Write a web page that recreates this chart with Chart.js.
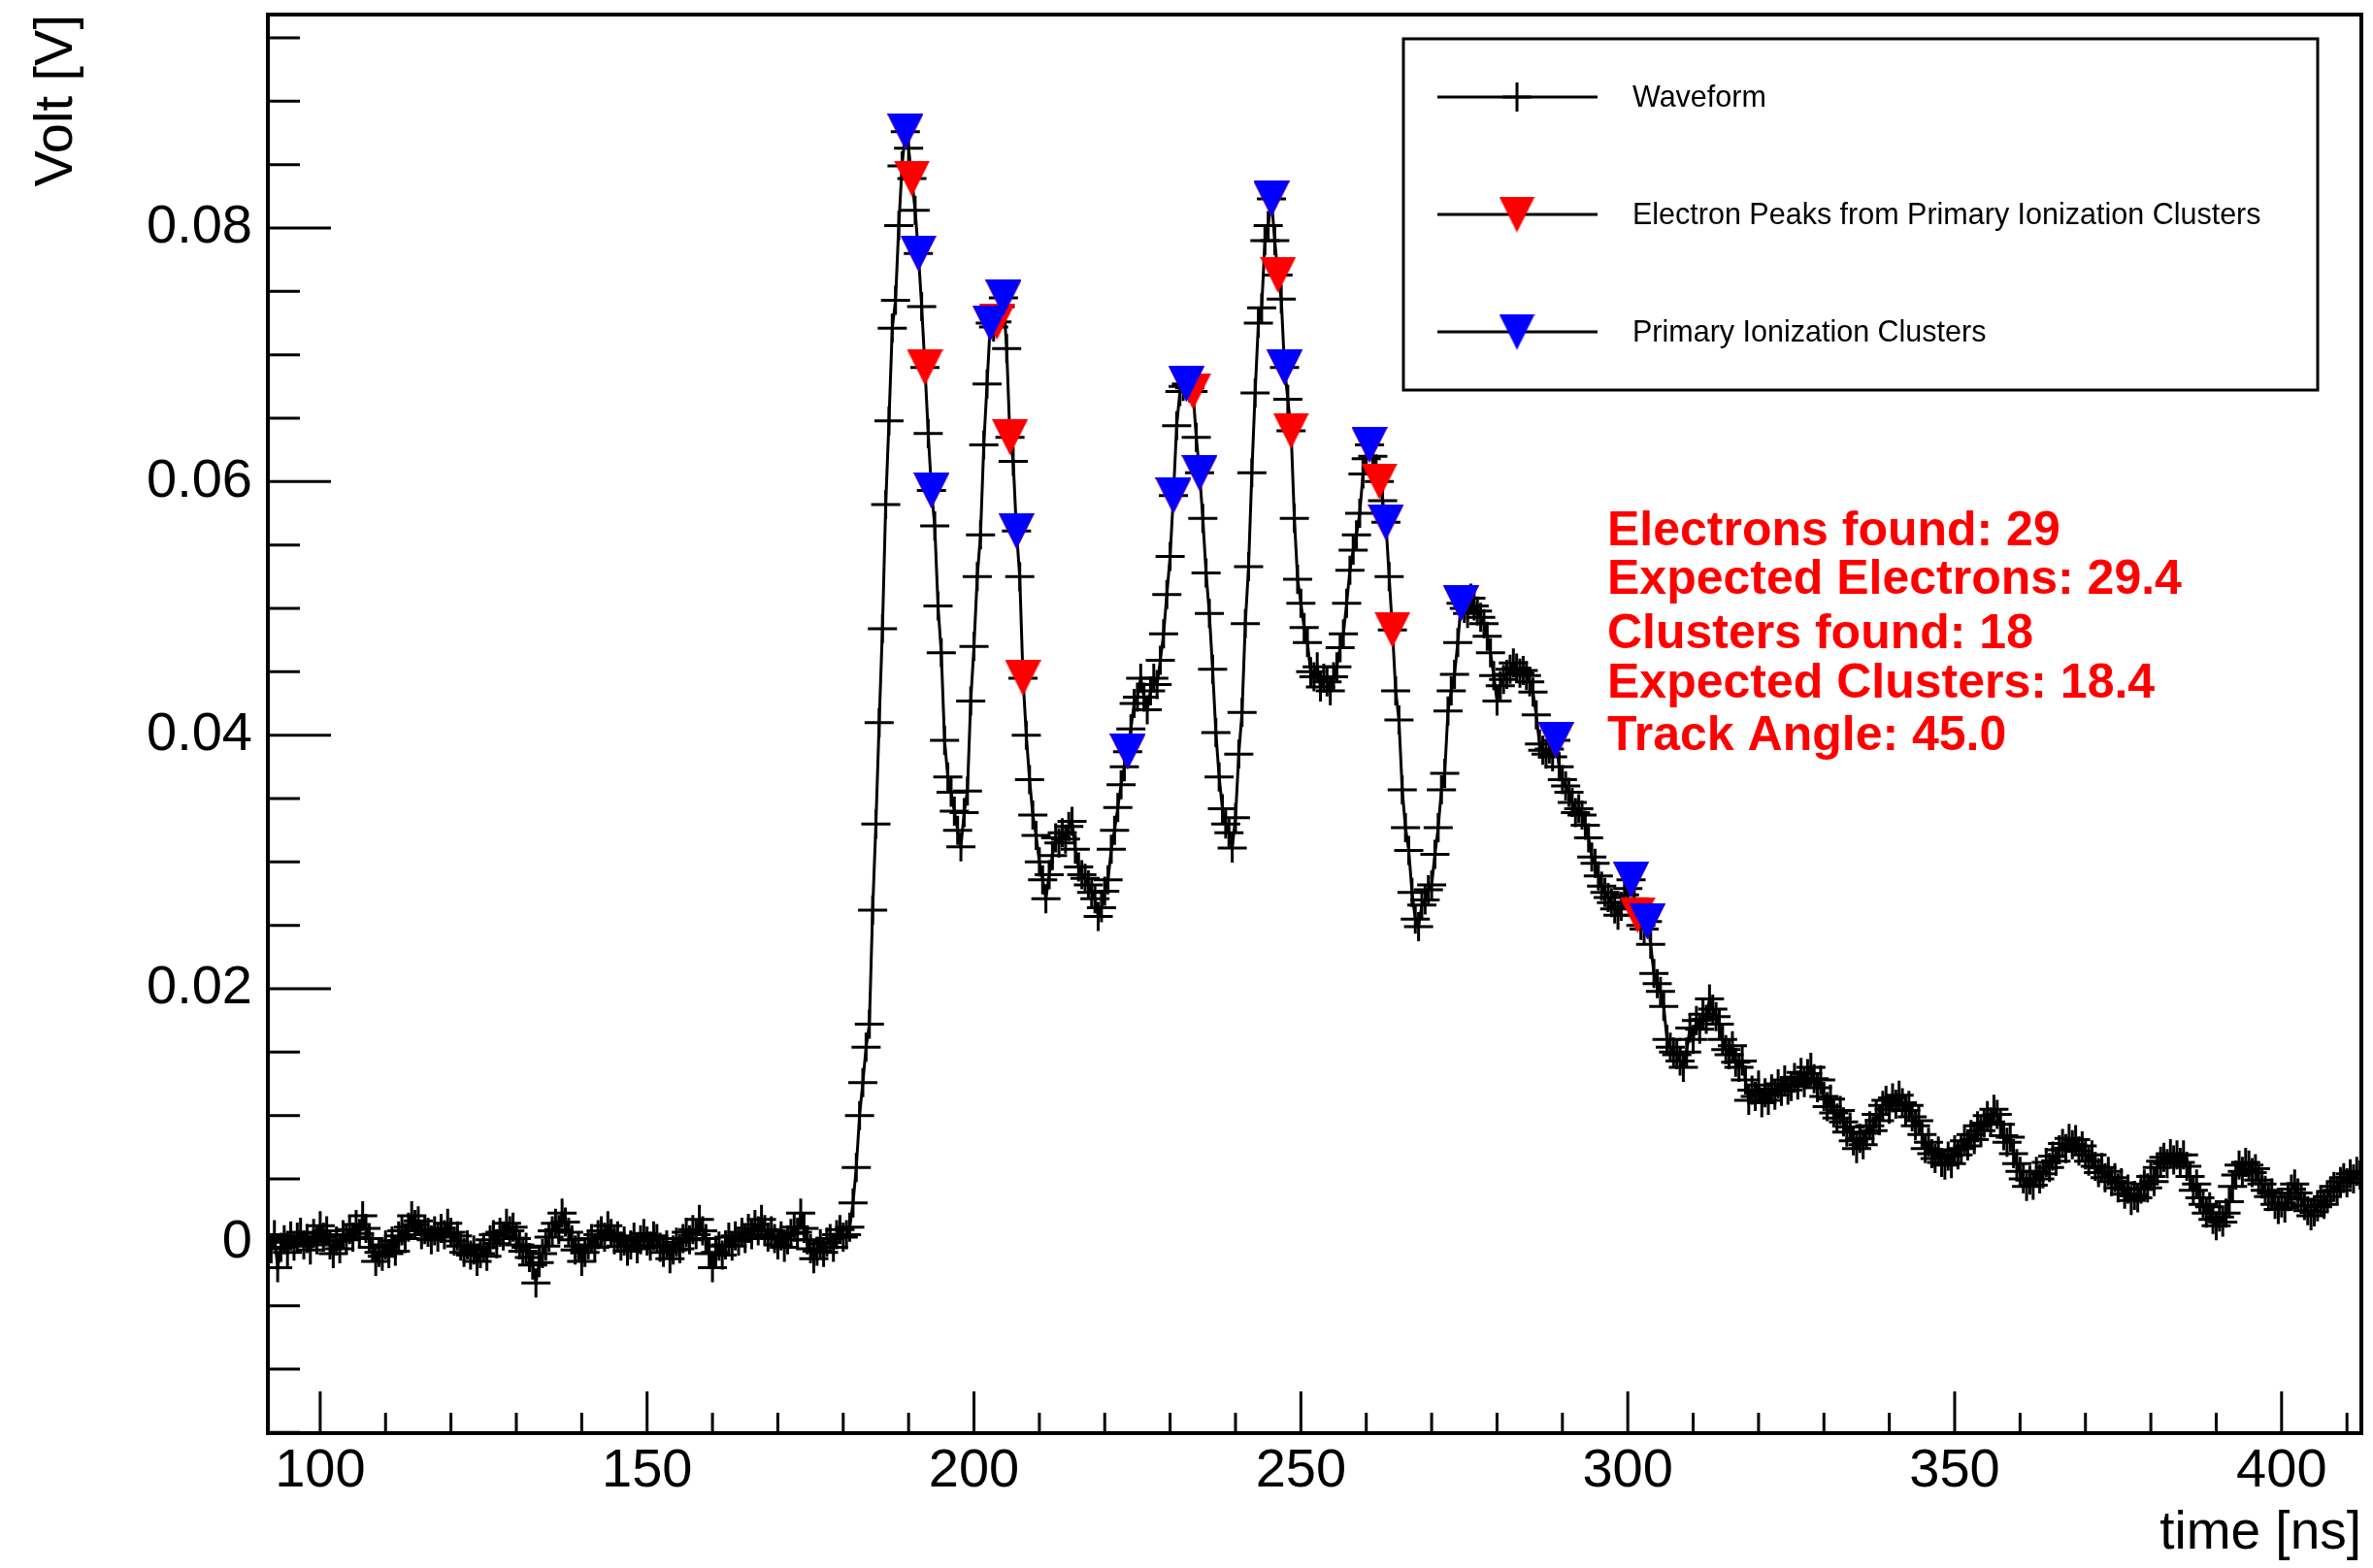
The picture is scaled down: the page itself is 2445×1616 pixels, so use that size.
<!DOCTYPE html>
<html><head><meta charset="utf-8">
<style>html,body{margin:0;padding:0;background:#fff;}canvas{display:block;}</style>
<script src="https://cdn.jsdelivr.net/npm/chart.js@4.4.1/dist/chart.umd.min.js"></script>
</head><body>
<canvas id="c" width="2445" height="1616" style="width:2445px;height:1616px"></canvas>
<script>
// Sampling grid of the waveform (ns)
const T0 = 92, DT = 0.5;
// Waveform amplitude in mV, one value per sample starting at T0
const WAVE_MV = [
0.3,-0.5,0.6,-2.0,-0.4,0.2,-0.8,0.5,-0.3,0.4,
0.8,-0.2,0.3,-0.6,0.7,0.2,1.3,0.4,0.9,-0.2,
-0.9,0.1,-0.5,0.6,0.2,1.0,0.4,1.4,0.7,2.1,
1.1,0.3,-0.4,-1.5,-0.8,-1.1,-0.2,-0.9,0.1,-0.7,
0.5,0.9,0.3,1.2,2.1,1.4,1.7,0.6,1.0,0.8,
0.2,0.9,0.4,1.1,0.6,1.5,0.8,0.1,0.5,-0.3,
-0.8,-0.2,-1.0,-0.6,-1.5,-0.9,-0.4,-1.1,0.2,0.6,
-0.1,0.8,0.5,1.5,0.9,1.2,0.3,-0.2,-0.7,-0.4,
-1.2,-1.8,-3.2,-1.6,-0.9,-0.3,0.4,0.9,1.5,1.0,
2.3,1.6,0.8,0.2,-0.6,-0.3,-1.5,-0.8,-0.2,0.3,
-0.4,0.6,0.9,0.4,1.3,0.7,0.2,0.5,-0.3,0.1,
-0.7,-0.2,0.4,-0.5,0.2,0.7,0.1,-0.3,0.5,0.3,
-0.4,-0.8,-0.2,-1.3,-0.6,0.0,-0.5,0.3,0.8,0.2,
1.0,0.6,1.8,0.9,0.3,-0.9,-2.0,-0.8,-0.3,-1.0,
-0.2,0.4,-0.3,0.5,0.1,0.8,0.3,1.1,0.6,1.4,
0.9,1.8,1.0,0.4,0.9,0.3,-0.2,0.5,-0.4,0.2,
0.7,1.2,0.8,2.3,1.1,0.2,-0.5,-1.3,-0.7,-0.1,
-0.8,0.0,0.3,-0.4,0.6,1.0,0.4,0.6,1.2,3.1,
5.9,10.0,12.6,15.4,17.2,26.2,33.0,41.0,48.4,58.2,
64.8,72.1,74.3,80.2,84.9,87.6,86.3,83.9,81.4,78.0,
73.8,69.0,63.8,59.3,56.5,50.2,46.5,39.6,36.7,35.5,
34.0,32.5,31.2,33.9,35.6,42.7,47.0,52.5,55.8,62.9,
67.7,72.5,72.2,72.6,73.8,74.5,70.5,63.5,61.6,56.1,
52.5,44.5,40.0,36.5,33.7,32.1,30.0,28.6,27.1,29.0,
30.5,31.9,31.5,32.3,31.8,32.8,33.2,31.0,29.6,29.0,
28.7,28.2,27.6,27.1,25.7,26.4,27.7,28.6,31.0,32.5,
34.3,36.1,37.5,38.7,40.5,42.5,43.0,44.5,43.0,42.0,
43.5,44.5,44.0,45.9,48.0,51.1,54.1,58.9,64.4,67.1,
67.5,67.7,67.4,67.1,63.5,60.7,57.1,52.8,49.6,45.2,
40.2,36.7,34.2,33.0,32.3,31.1,33.5,38.5,41.8,48.8,
53.3,60.7,67.0,72.5,73.7,79.0,80.2,82.3,79.0,76.3,
74.4,69.0,66.5,64.0,57.1,52.3,50.4,48.5,47.3,45.0,
44.6,45.4,43.8,44.5,44.2,43.5,44.6,45.4,46.9,48.0,
50.4,53.0,54.6,55.8,57.5,60.6,61.8,62.9,62.0,61.0,
60.0,58.5,56.8,52.5,48.3,43.5,41.2,35.7,32.7,30.9,
27.6,25.5,24.9,26.6,27.0,27.8,28.2,30.6,32.7,35.7,
37.0,41.9,43.5,44.8,47.3,50.4,50.0,49.6,50.8,50.2,
49.8,49.3,48.8,47.8,46.5,44.7,42.7,43.9,44.4,44.8,
45.2,45.7,45.3,44.9,45.1,44.7,44.2,43.4,41.6,39.3,
38.8,38.5,38.9,38.3,39.6,37.5,36.5,36.0,35.5,34.7,
33.9,34.2,33.7,32.9,31.9,30.4,29.9,28.9,28.1,27.6,
27.2,26.8,26.3,25.8,26.5,27.4,27.9,28.6,27.1,25.8,
25.0,24.7,25.3,23.5,21.2,20.4,19.8,18.6,16.0,15.4,
15.0,14.8,14.3,13.8,15.0,16.9,16.0,17.5,16.8,18.0,
17.6,19.2,18.4,17.8,17.2,16.0,15.2,14.8,15.5,14.2,
13.8,14.3,12.8,11.2,12.0,11.5,12.4,11.0,11.8,11.2,
12.1,11.6,12.5,11.9,12.8,12.0,12.3,13.0,12.4,13.4,
12.6,13.3,13.8,12.9,12.2,12.8,11.5,10.7,11.3,10.2,
9.8,10.4,9.5,8.7,9.1,8.0,7.4,8.2,7.7,8.6,
9.2,8.8,10.1,9.6,10.8,11.2,10.5,11.4,10.9,11.6,
11.0,10.4,10.8,9.9,9.2,9.6,8.5,7.4,7.9,7.0,
6.6,7.2,6.3,6.1,6.8,6.2,7.3,6.9,7.4,8.0,
7.6,8.5,8.1,9.2,8.8,9.4,10.0,9.5,10.5,10.1,
9.3,8.4,7.9,8.3,7.0,6.2,5.6,5.0,4.4,4.9,
4.5,5.6,5.0,5.4,6.3,5.9,6.8,6.4,7.3,7.8,
7.4,8.2,7.7,8.1,7.2,7.6,6.9,6.4,6.9,6.0,
5.5,5.9,5.1,5.6,4.8,5.1,4.3,4.7,3.8,4.2,
3.3,3.7,3.5,4.2,4.6,4.3,5.2,4.8,5.9,6.4,
6.7,6.2,7.0,6.5,6.9,6.3,6.9,6.0,5.2,4.1,
4.6,3.5,3.0,2.3,2.8,1.8,1.3,2.0,1.6,2.3,
3.2,4.4,5.3,6.1,5.6,6.3,6.1,5.5,5.8,4.9,
4.6,4.1,3.6,3.9,3.0,2.6,3.1,2.7,3.6,4.2,
4.6,3.9,3.4,2.9,2.5,2.1,2.4,2.8,3.3,3.0,
3.6,4.0,4.4,4.1,4.8,5.1,4.7,5.4,5.0,5.6,
5.3
];
// Primary ionization clusters (blue)
const CLUSTER_T  = [189.5,191.5,193.5,202.5,204.5,206.5,223.5,230.5,232.5,234.5,245.5,247.5,260.5,263.0,274.5,289.0,300.5,303.0];
const CLUSTER_MV = [87.6,78.0,59.3,72.5,74.5,56.1,38.7,58.9,67.7,60.7,82.3,69.0,62.9,56.8,50.4,39.6,28.6,25.3];
// Electron peaks (red)
const ELECTRON_T  = [189.5,190.5,191.5,192.5,193.5,202.5,203.5,204.5,205.5,206.5,207.5,223.5,230.5,232.5,233.5,234.5,245.5,246.5,247.5,248.5,260.5,262.0,263.0,264.0,274.5,289.0,300.5,301.5,303.0];
const ELECTRON_MV = [87.6,83.9,78.0,69.0,59.3,72.5,72.6,74.5,63.5,56.1,44.5,38.7,58.9,67.7,67.1,60.7,82.3,76.3,69.0,64.0,62.9,60.0,56.8,48.3,50.4,39.6,28.6,25.8,25.3];

const X_TICKS = [100,150,200,250,300,350,400];
const Y_TICKS = [0,0.02,0.04,0.06,0.08];
const X_TITLE = 'time [ns]';
const Y_TITLE = 'Volt [V]';
const LEGEND_LABELS = ['Waveform','Electron Peaks from Primary Ionization Clusters','Primary Ionization Clusters'];
const INFO_LINES = ['Electrons found: 29','Expected Electrons: 29.4','Clusters found: 18','Expected Clusters: 18.4','Track Angle: 45.0'];

const X_MIN = 92, X_MAX = 412.2, Y_MIN = -0.01505, Y_MAX = 0.09684;
const FONT = "'Liberation Sans', Arial, Helvetica, sans-serif";

function triangle(color){
  const c = document.createElement('canvas');
  c.width = 37; c.height = 37;
  const g = c.getContext('2d');
  g.fillStyle = color;
  g.beginPath(); g.moveTo(0,0); g.lineTo(37,0); g.lineTo(18.5,37); g.closePath(); g.fill();
  return c;
}
const RED_TRI = triangle('#ff0000');
const BLUE_TRI = triangle('#0000ff');

const wavePoints = WAVE_MV.map((v,i)=>({x: T0 + i*DT, y: v/1000}));
const clusterPoints = CLUSTER_T.map((t,i)=>({x:t, y: CLUSTER_MV[i]/1000}));
const electronPoints = ELECTRON_T.map((t,i)=>({x:t, y: ELECTRON_MV[i]/1000}));

const rootDecor = {
  id: 'rootDecor',
  afterDatasetsDraw(chart){
    const {ctx, chartArea:a, scales:{x, y}} = chart;
    ctx.save();
    ctx.strokeStyle = '#000';
    ctx.lineWidth = 3;
    ctx.beginPath();
    for (let v = 100; v <= X_MAX; v += 10){
      const px = x.getPixelForValue(v);
      const len = (v % 50 === 0) ? 43 : 21;
      ctx.moveTo(px, a.bottom); ctx.lineTo(px, a.bottom - len);
    }
    for (let i = -3; i <= 19; i++){
      const v = i * 0.005;
      if (v < Y_MIN || v > Y_MAX) continue;
      const py = y.getPixelForValue(v);
      const len = (i % 4 === 0) ? 65 : 33;
      ctx.moveTo(a.left, py); ctx.lineTo(a.left + len, py);
    }
    ctx.stroke();
    ctx.lineWidth = 4;
    ctx.strokeRect(a.left, a.top, a.right - a.left, a.bottom - a.top);

    // Legend box
    const L = {x1:1446, y1:40, x2:2388, y2:402};
    ctx.fillStyle = '#fff';
    ctx.fillRect(L.x1, L.y1, L.x2-L.x1, L.y2-L.y1);
    ctx.lineWidth = 3;
    ctx.strokeRect(L.x1, L.y1, L.x2-L.x1, L.y2-L.y1);
    const rows = [100, 221, 342];
    const syms = [null, RED_TRI, BLUE_TRI];
    ctx.font = '30.5px ' + FONT;
    ctx.textBaseline = 'middle';
    ctx.textAlign = 'left';
    rows.forEach((ry, i) => {
      ctx.strokeStyle = '#000'; ctx.lineWidth = 3;
      ctx.beginPath(); ctx.moveTo(1481, ry); ctx.lineTo(1646, ry); ctx.stroke();
      if (syms[i]) {
        ctx.drawImage(syms[i], 1563 - 18.5, ry - 18.5);
      } else {
        ctx.beginPath(); ctx.moveTo(1563, ry - 15); ctx.lineTo(1563, ry + 15);
        ctx.moveTo(1548, ry); ctx.lineTo(1578, ry); ctx.stroke();
      }
      ctx.fillStyle = '#000';
      ctx.fillText(LEGEND_LABELS[i], 1682, ry + 2);
    });

    // Info text
    ctx.fillStyle = '#ff0000';
    ctx.font = 'bold 50px ' + FONT;
    ctx.textBaseline = 'alphabetic';
    const base = [561.7, 611.7, 668.3, 719.3, 773.3];
    INFO_LINES.forEach((s, i) => ctx.fillText(s, 1656, base[i]));
    ctx.restore();
  }
};

Chart.defaults.font.family = FONT;
Chart.defaults.color = '#000';

new Chart(document.getElementById('c'), {
  type: 'line',
  data: {
    datasets: [
      { label: LEGEND_LABELS[2], type: 'scatter', data: clusterPoints, order: 1,
        pointStyle: BLUE_TRI, pointRadius: 18, showLine: false, backgroundColor: '#0000ff', borderColor: '#0000ff' },
      { label: LEGEND_LABELS[1], type: 'scatter', data: electronPoints, order: 2,
        pointStyle: RED_TRI, pointRadius: 18, showLine: false, backgroundColor: '#ff0000', borderColor: '#ff0000' },
      { label: LEGEND_LABELS[0], type: 'line', data: wavePoints, order: 3,
        borderColor: '#000', borderWidth: 3, tension: 0, fill: false,
        pointStyle: 'cross', pointRadius: 15, pointBorderWidth: 3, pointBorderColor: '#000', pointBackgroundColor: '#000' }
    ]
  },
  options: {
    responsive: false,
    animation: false,
    events: [],
    parsing: false,
    layout: { autoPadding: false, padding: { left: 0, top: 15, right: 12, bottom: 0 } },
    plugins: { legend: { display: false }, tooltip: { enabled: false } },
    scales: {
      x: {
        type: 'linear', position: 'bottom', min: X_MIN, max: X_MAX,
        afterBuildTicks: s => { s.ticks = X_TICKS.map(v => ({ value: v })); },
        afterFit: s => { s.height = 139; s.paddingLeft = 0; s.paddingRight = 0; s.paddingTop = 0; s.paddingBottom = 0; },
        grid: { display: false, drawTicks: false }, border: { display: false },
        ticks: { font: { size: 56 }, color: '#000', padding: 6, maxRotation: 0, autoSkip: false, callback: v => String(v) },
        title: { display: true, text: X_TITLE, align: 'end', font: { size: 55 }, color: '#000', padding: { top: 0, bottom: 2 } }
      },
      y: {
        type: 'linear', position: 'left', min: Y_MIN, max: Y_MAX,
        afterBuildTicks: s => { s.ticks = Y_TICKS.map(v => ({ value: v })); },
        afterFit: s => { s.width = 276; s.paddingTop = 0; s.paddingBottom = 0; s.paddingLeft = 0; s.paddingRight = 0; },
        grid: { display: false, drawTicks: false }, border: { display: false },
        ticks: { font: { size: 56 }, color: '#000', padding: 16, autoSkip: false, callback: v => (v === 0 ? '0' : v.toFixed(2)) },
        title: { display: true, text: Y_TITLE, align: 'end', font: { size: 56 }, color: '#000', padding: { top: 25, bottom: 0 } }
      }
    }
  },
  plugins: [rootDecor]
});
</script>
</body></html>
